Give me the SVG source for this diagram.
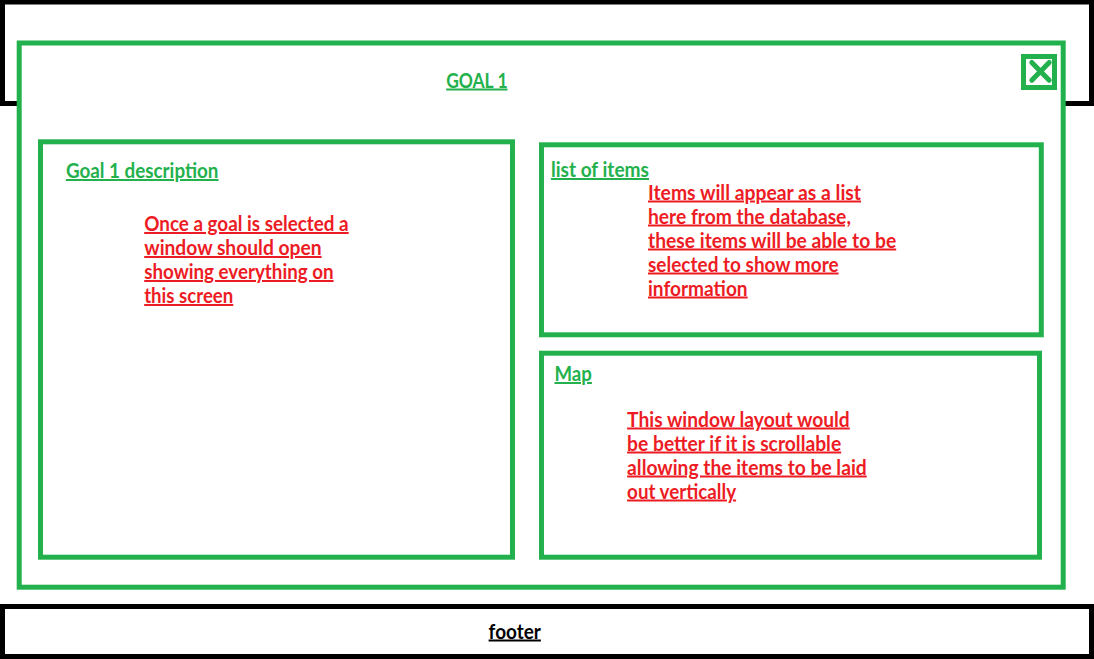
<svg xmlns="http://www.w3.org/2000/svg" width="1094" height="659" viewBox="0 0 1094 659">
<style>
.box{fill:#fff;stroke:#22B14C;stroke-width:5}
.blk{fill:#fff;stroke:#000;stroke-width:5}
text{font-family:Lato,"Liberation Sans",sans-serif;font-weight:bold;font-size:20px;text-decoration:underline}
.g{fill:#22B14C}
.r{fill:#ED1C24}
.k{fill:#000}
.xl{stroke:#22B14C;stroke-width:5;stroke-linecap:round}
</style>
<rect width="1094" height="659" fill="#fff"/>
<g id="header">
<rect class="blk" x="2.5" y="2" width="1089" height="101.5"/>
</g>
<g id="footer">
<rect class="blk" x="2.5" y="606.5" width="1089" height="50"/>
<text class="k" x="488.6" y="638.5" textLength="52.3" lengthAdjust="spacingAndGlyphs">footer</text>
</g>
<g id="goal-window">
<rect class="box" x="19.2" y="43" width="1044" height="544.2"/>
<text class="g" x="446.2" y="87.5" textLength="61.3" lengthAdjust="spacingAndGlyphs">GOAL 1</text>
</g>
<g id="close-button">
<rect class="box" x="1023.5" y="56.5" width="31" height="31"/>
<line class="xl" x1="1031.8" y1="62.5" x2="1049.2" y2="80.2"/>
<line class="xl" x1="1049.2" y1="62.5" x2="1031.8" y2="80.2"/>
</g>
<g id="goal-description">
<rect class="box" x="40.5" y="141.8" width="472" height="415.4"/>
<text class="g" x="65.9" y="178" textLength="152.6" lengthAdjust="spacingAndGlyphs">Goal 1 description</text>
<text class="r" x="144.2" y="231" textLength="204.5" lengthAdjust="spacingAndGlyphs">Once a goal is selected a</text>
<text class="r" x="144.2" y="255" textLength="177.4" lengthAdjust="spacingAndGlyphs">window should open</text>
<text class="r" x="144.2" y="279" textLength="189.4" lengthAdjust="spacingAndGlyphs">showing everything on</text>
<text class="r" x="144.2" y="303" textLength="89.1" lengthAdjust="spacingAndGlyphs">this screen</text>
</g>
<g id="list-of-items">
<rect class="box" x="541.5" y="144.8" width="499.8" height="190"/>
<text class="g" x="550.9" y="177" textLength="98.1" lengthAdjust="spacingAndGlyphs">list of items</text>
<text class="r" x="648" y="199.5" textLength="213" lengthAdjust="spacingAndGlyphs">Items will appear as a list</text>
<text class="r" x="648" y="223.5" textLength="202.9" lengthAdjust="spacingAndGlyphs">here from the database,</text>
<text class="r" x="648" y="247.5" textLength="248.2" lengthAdjust="spacingAndGlyphs">these items will be able to be</text>
<text class="r" x="648" y="271.5" textLength="190.6" lengthAdjust="spacingAndGlyphs">selected to show more</text>
<text class="r" x="648" y="295.5" textLength="99.6" lengthAdjust="spacingAndGlyphs">information</text>
</g>
<g id="map">
<rect class="box" x="541.5" y="353.2" width="498" height="204"/>
<text class="g" x="554.5" y="381" textLength="37.4" lengthAdjust="spacingAndGlyphs">Map</text>
<text class="r" x="627.1" y="426.5" textLength="222.7" lengthAdjust="spacingAndGlyphs">This window layout would</text>
<text class="r" x="627.1" y="450.5" textLength="214.1" lengthAdjust="spacingAndGlyphs">be better if it is scrollable</text>
<text class="r" x="627.1" y="474.5" textLength="239.6" lengthAdjust="spacingAndGlyphs">allowing the items to be laid</text>
<text class="r" x="627.1" y="498.5" textLength="109" lengthAdjust="spacingAndGlyphs">out vertically</text>
</g>
<g id="connectors"/>
</svg>
